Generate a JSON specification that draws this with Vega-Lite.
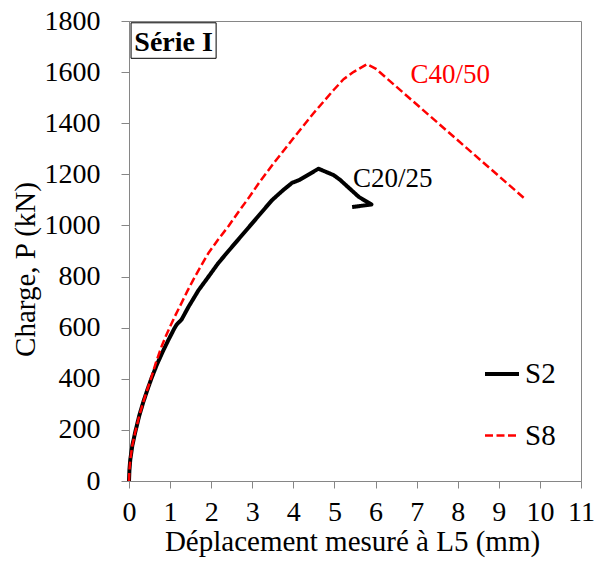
{
  "$schema": "https://vega.github.io/schema/vega-lite/v6.json",
  "width": 452,
  "height": 460,
  "autosize": {"type": "none"},
  "padding": {"left": 129, "top": 21, "right": 15, "bottom": 85},
  "background": "white",
  "config": {
    "view": {"stroke": "#868686", "strokeWidth": 1},
    "font": "Liberation Serif"
  },
  "layer": [
    {
      "data": {"values": [
        {"series": "S2", "i": 0, "x": 0, "y": 0},
        {"series": "S2", "i": 1, "x": 0.01, "y": 42},
        {"series": "S2", "i": 2, "x": 0.03, "y": 82},
        {"series": "S2", "i": 3, "x": 0.08, "y": 138},
        {"series": "S2", "i": 4, "x": 0.15, "y": 190},
        {"series": "S2", "i": 5, "x": 0.25, "y": 256},
        {"series": "S2", "i": 6, "x": 0.35, "y": 310},
        {"series": "S2", "i": 7, "x": 0.45, "y": 358},
        {"series": "S2", "i": 8, "x": 0.55, "y": 403},
        {"series": "S2", "i": 9, "x": 0.68, "y": 456},
        {"series": "S2", "i": 10, "x": 0.82, "y": 506},
        {"series": "S2", "i": 11, "x": 0.96, "y": 552},
        {"series": "S2", "i": 12, "x": 1.1, "y": 596},
        {"series": "S2", "i": 13, "x": 1.16, "y": 612},
        {"series": "S2", "i": 14, "x": 1.22, "y": 622},
        {"series": "S2", "i": 15, "x": 1.28, "y": 632},
        {"series": "S2", "i": 16, "x": 1.45, "y": 682},
        {"series": "S2", "i": 17, "x": 1.69, "y": 746},
        {"series": "S2", "i": 18, "x": 1.95, "y": 803},
        {"series": "S2", "i": 19, "x": 2.17, "y": 852},
        {"series": "S2", "i": 20, "x": 2.42, "y": 900},
        {"series": "S2", "i": 21, "x": 2.66, "y": 945},
        {"series": "S2", "i": 22, "x": 2.9, "y": 990},
        {"series": "S2", "i": 23, "x": 3.15, "y": 1037},
        {"series": "S2", "i": 24, "x": 3.48, "y": 1099},
        {"series": "S2", "i": 25, "x": 3.75, "y": 1138},
        {"series": "S2", "i": 26, "x": 3.97, "y": 1167},
        {"series": "S2", "i": 27, "x": 4.15, "y": 1178},
        {"series": "S2", "i": 28, "x": 4.61, "y": 1222},
        {"series": "S2", "i": 29, "x": 4.98, "y": 1197},
        {"series": "S2", "i": 30, "x": 5.14, "y": 1178},
        {"series": "S2", "i": 31, "x": 5.59, "y": 1112},
        {"series": "S2", "i": 32, "x": 5.9, "y": 1082},
        {"series": "S2", "i": 33, "x": 5.43, "y": 1072},
        {"series": "S8", "i": 0, "x": 0, "y": 0},
        {"series": "S8", "i": 1, "x": 0.01, "y": 42},
        {"series": "S8", "i": 2, "x": 0.03, "y": 82},
        {"series": "S8", "i": 3, "x": 0.08, "y": 138},
        {"series": "S8", "i": 4, "x": 0.15, "y": 190},
        {"series": "S8", "i": 5, "x": 0.25, "y": 256},
        {"series": "S8", "i": 6, "x": 0.35, "y": 310},
        {"series": "S8", "i": 7, "x": 0.45, "y": 360},
        {"series": "S8", "i": 8, "x": 0.55, "y": 408},
        {"series": "S8", "i": 9, "x": 0.66, "y": 466},
        {"series": "S8", "i": 10, "x": 0.79, "y": 525},
        {"series": "S8", "i": 11, "x": 0.9, "y": 568},
        {"series": "S8", "i": 12, "x": 1.0, "y": 604},
        {"series": "S8", "i": 13, "x": 1.14, "y": 652},
        {"series": "S8", "i": 14, "x": 1.28, "y": 697},
        {"series": "S8", "i": 15, "x": 1.42, "y": 743},
        {"series": "S8", "i": 16, "x": 1.56, "y": 786},
        {"series": "S8", "i": 17, "x": 1.75, "y": 841},
        {"series": "S8", "i": 18, "x": 1.93, "y": 891},
        {"series": "S8", "i": 19, "x": 2.17, "y": 945},
        {"series": "S8", "i": 20, "x": 2.42, "y": 997},
        {"series": "S8", "i": 21, "x": 2.65, "y": 1050},
        {"series": "S8", "i": 22, "x": 2.9, "y": 1105},
        {"series": "S8", "i": 23, "x": 3.2, "y": 1175},
        {"series": "S8", "i": 24, "x": 3.52, "y": 1243},
        {"series": "S8", "i": 25, "x": 4.0, "y": 1341},
        {"series": "S8", "i": 26, "x": 4.49, "y": 1439},
        {"series": "S8", "i": 27, "x": 4.98, "y": 1530},
        {"series": "S8", "i": 28, "x": 5.22, "y": 1572},
        {"series": "S8", "i": 29, "x": 5.47, "y": 1601},
        {"series": "S8", "i": 30, "x": 5.79, "y": 1631},
        {"series": "S8", "i": 31, "x": 6.0, "y": 1614},
        {"series": "S8", "i": 32, "x": 9.65, "y": 1102}
      ]},
      "mark": {"type": "line", "strokeJoin": "round"},
      "encoding": {
        "x": {
          "field": "x", "type": "quantitative",
          "scale": {"domain": [0, 11], "nice": false, "zero": false},
          "axis": {
            "title": "Déplacement mesuré à L5 (mm)",
            "values": [0, 1, 2, 3, 4, 5, 6, 7, 8, 9, 10, 11],
            "grid": false,
            "domainColor": "#868686",
            "tickColor": "#868686",
            "tickSize": 7,
            "labelFont": "Liberation Serif",
            "labelFontSize": 28,
            "labelColor": "black",
            "labelBaseline": "alphabetic",
            "labelPadding": 32,
            "labelFlush": false,
            "labelOverlap": false,
            "titleFont": "Liberation Serif",
            "titleFontSize": 29,
            "titleFontWeight": "normal",
            "titleColor": "black",
            "titleBaseline": "alphabetic",
            "titleAlign": "center",
            "titleX": 223,
            "titleY": 69
          }
        },
        "y": {
          "field": "y", "type": "quantitative",
          "scale": {"domain": [0, 1800], "nice": false},
          "axis": {
            "title": "Charge,  P (kN)",
            "values": [0, 200, 400, 600, 800, 1000, 1200, 1400, 1600, 1800],
            "format": "d",
            "grid": false,
            "domainColor": "#868686",
            "tickColor": "#868686",
            "tickSize": 8,
            "labelFont": "Liberation Serif",
            "labelFontSize": 28,
            "labelColor": "black",
            "labelPadding": 21,
            "labelFlush": false,
            "labelOverlap": false,
            "titleFont": "Liberation Serif",
            "titleFontSize": 29,
            "titleFontWeight": "normal",
            "titleColor": "black",
            "titleBaseline": "alphabetic",
            "titleAlign": "center",
            "titleAngle": -90,
            "titleX": -95,
            "titleY": 248
          }
        },
        "order": {"field": "i", "type": "quantitative"},
        "color": {
          "field": "series", "type": "nominal",
          "scale": {"domain": ["S2", "S8"], "range": ["#000000", "#FF0000"]},
          "legend": {
            "title": null,
            "orient": "none",
            "legendX": 354,
            "legendY": 334,
            "symbolType": "stroke",
            "symbolSize": 1156,
            "labelFont": "Liberation Serif",
            "labelFontSize": 29,
            "labelColor": "black",
            "rowPadding": 28,
            "labelOffset": 4,
            "padding": 0
          }
        },
        "strokeDash": {
          "field": "series", "type": "nominal",
          "scale": {"domain": ["S2", "S8"], "range": [[1, 0], [8, 3.5]]}
        },
        "strokeWidth": {
          "field": "series", "type": "nominal",
          "scale": {"domain": ["S2", "S8"], "range": [4, 2.5]}
        }
      }
    },
    {
      "data": {"values": [{"x": 0.05, "x2": 2.12, "y": 1654, "y2": 1793}]},
      "mark": {"type": "rect", "fill": "white", "stroke": "black", "strokeWidth": 1},
      "encoding": {
        "x": {"field": "x", "type": "quantitative"},
        "x2": {"field": "x2"},
        "y": {"field": "y", "type": "quantitative"},
        "y2": {"field": "y2"}
      }
    },
    {
      "data": {"values": [{"x": 0.13, "y": 1682, "label": "Série I"}]},
      "mark": {"type": "text", "align": "left", "baseline": "alphabetic", "font": "Liberation Serif", "fontSize": 28, "fontWeight": "bold", "color": "black"},
      "encoding": {
        "x": {"field": "x", "type": "quantitative"},
        "y": {"field": "y", "type": "quantitative"},
        "text": {"field": "label"}
      }
    },
    {
      "data": {"values": [
        {"x": 5.45, "y": 1150, "label": "C20/25", "series": "S2"},
        {"x": 6.85, "y": 1557, "label": "C40/50", "series": "S8"}
      ]},
      "mark": {"type": "text", "align": "left", "baseline": "alphabetic", "font": "Liberation Serif", "fontSize": 27},
      "encoding": {
        "x": {"field": "x", "type": "quantitative"},
        "y": {"field": "y", "type": "quantitative"},
        "text": {"field": "label"},
        "color": {"field": "series", "type": "nominal", "legend": null, "scale": {"domain": ["S2", "S8"], "range": ["#000000", "#FF0000"]}}
      }
    }
  ]
}
